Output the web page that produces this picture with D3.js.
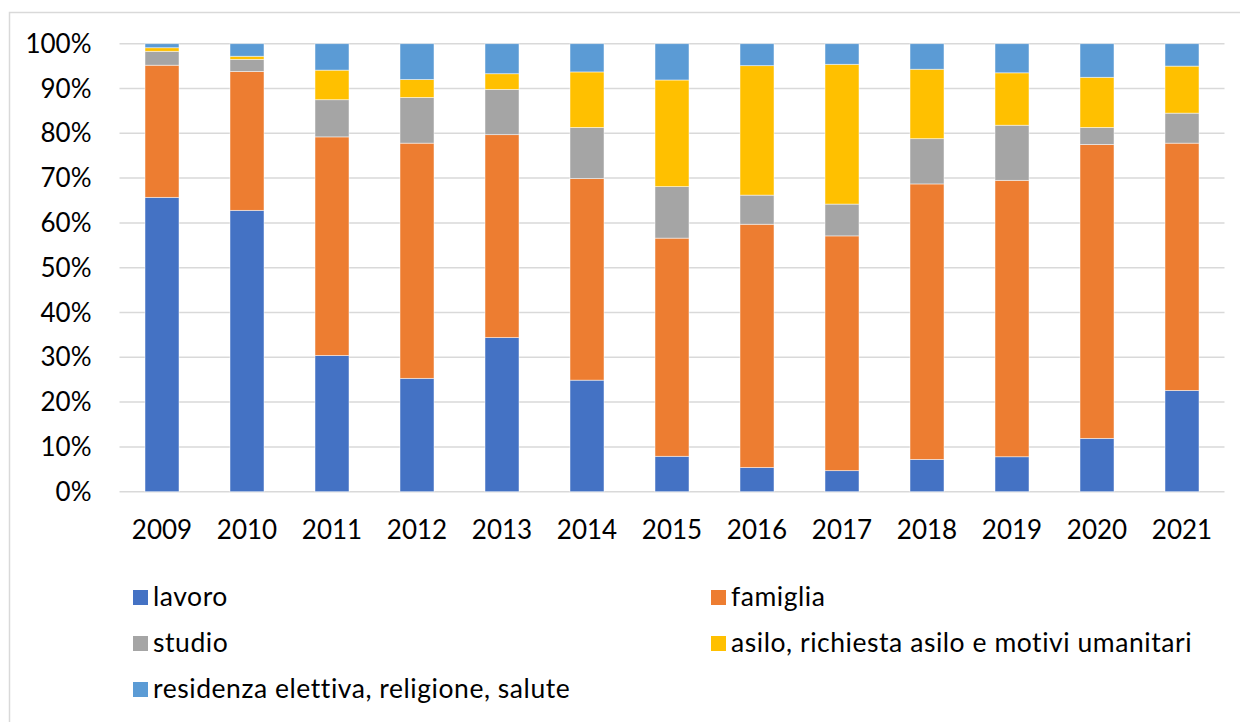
<!DOCTYPE html>
<html>
<head>
<meta charset="utf-8">
<script src="https://cdn.jsdelivr.net/npm/d3@7"></script>
<style>
  html, body { margin: 0; padding: 0; background: #fff; }
  svg { display: block; }
  text { font-family: Lato, "Open Sans", sans-serif; fill: #000; }
</style>
</head>
<body>
<svg id="chart" width="1240" height="722"></svg>
<script>
// Years on the x axis
const years = ["2009","2010","2011","2012","2013","2014","2015","2016","2017","2018","2019","2020","2021"];

// Share of permits by reason (%), one array per reason
const lavoro    = [65.7, 62.8, 30.4, 25.3, 34.4, 24.9,  7.9,  5.4,  4.7,  7.2,  7.8, 11.9, 22.6];
const famiglia  = [29.5, 31.0, 48.8, 52.5, 45.3, 45.0, 48.7, 54.3, 52.4, 61.5, 61.7, 65.6, 55.2];
const studio    = [ 3.1,  2.7,  8.3, 10.2, 10.1, 11.4, 11.5,  6.5,  7.1, 10.1, 12.3,  3.8,  6.7];
const asilo     = [ 0.8,  0.7,  6.6,  4.0,  3.5, 12.4, 23.8, 28.9, 31.2, 15.5, 11.7, 11.2, 10.5];
const residenza = [ 0.9,  2.8,  5.9,  8.0,  6.7,  6.3,  8.1,  4.9,  4.6,  5.7,  6.5,  7.5,  5.0];

// Series names as shown in the legend
const seriesNames = [
  "lavoro",
  "famiglia",
  "studio",
  "asilo, richiesta asilo e motivi umanitari",
  "residenza elettiva, religione, salute"
];
const seriesValues = [lavoro, famiglia, studio, asilo, residenza];
const seriesColors = ["#4472C4", "#ED7D31", "#A5A5A5", "#FFC000", "#5B9BD5"];

// Y tick values (percent)
const yTicks = [0, 10, 20, 30, 40, 50, 60, 70, 80, 90, 100];

// Rows for the stack layout
const rows = years.map((y, i) => {
  const r = { year: y };
  seriesNames.forEach((n, k) => { r[n] = seriesValues[k][i]; });
  return r;
});

const svg = d3.select("#chart");

// Chart area frame
svg.append("rect")
  .attr("x", 9.5).attr("y", 12.5)
  .attr("width", 1240).attr("height", 720)
  .attr("fill", "#fff")
  .attr("stroke", "#d9d9d9")
  .attr("stroke-width", 1.5);

const plot = { left: 119.5, right: 1224.5, top: 43.7, bottom: 491.7 };

const x = d3.scaleBand()
  .domain(years)
  .range([plot.left, plot.right])
  .paddingInner(0.6)
  .paddingOuter(0.3);

const y = d3.scaleLinear()
  .domain([0, 100])
  .range([plot.bottom, plot.top]);

// Horizontal gridlines
svg.append("g")
  .selectAll("line")
  .data(yTicks)
  .join("line")
  .attr("x1", plot.left).attr("x2", plot.right)
  .attr("y1", d => y(d)).attr("y2", d => y(d))
  .attr("stroke", "#d9d9d9")
  .attr("stroke-width", 1.5);

// Y axis tick labels
const yAxis = d3.axisLeft(y)
  .tickValues(yTicks)
  .tickFormat(d => d + "%")
  .tickSize(0)
  .tickPadding(0);
const gy = svg.append("g")
  .attr("transform", `translate(${plot.left - 28},0)`)
  .call(yAxis);
gy.select(".domain").remove();
gy.selectAll("text")
  .attr("font-family", "Lato, 'Open Sans', sans-serif")
  .attr("font-size", 26)
  .attr("fill", "#000")
  .attr("dy", "0.33em");

// Stacked bars
const stack = d3.stack().keys(seriesNames);
const layers = stack(rows);

svg.append("g")
  .selectAll("g")
  .data(layers)
  .join("g")
  .attr("fill", (d, i) => seriesColors[i])
  .selectAll("rect")
  .data(d => d)
  .join("rect")
  .attr("x", d => x(d.data.year))
  .attr("width", x.bandwidth())
  .attr("y", d => y(d[1]))
  .attr("height", d => Math.max(0, y(d[0]) - y(d[1])))
  .attr("stroke", "#fff")
  .attr("stroke-width", 0.8)
  .attr("stroke-opacity", 0.6);

// X axis labels
const xAxis = d3.axisBottom(x).tickSize(0).tickPadding(0);
const gx = svg.append("g")
  .attr("transform", `translate(0,${plot.bottom + 47})`)
  .call(xAxis);
gx.select(".domain").remove();
gx.selectAll("text")
  .attr("font-family", "Lato, 'Open Sans', sans-serif")
  .attr("font-size", 26)
  .attr("fill", "#000")
  .attr("dy", 0);

// Legend: two columns, three rows
const legendCols = [133, 711];
const legendRows = [606, 652, 698];
const legend = svg.append("g")
  .selectAll("g")
  .data(seriesNames)
  .join("g")
  .attr("transform", (d, i) => `translate(${legendCols[i % 2]},${legendRows[Math.floor(i / 2)]})`);

legend.append("rect")
  .attr("x", 0).attr("y", -16)
  .attr("width", 15).attr("height", 15)
  .attr("fill", (d, i) => seriesColors[i]);

legend.append("text")
  .attr("x", 20).attr("y", 0)
  .attr("font-size", 26.5)
  .attr("letter-spacing", 0.55)
  .text(d => d);
</script>
</body>
</html>
